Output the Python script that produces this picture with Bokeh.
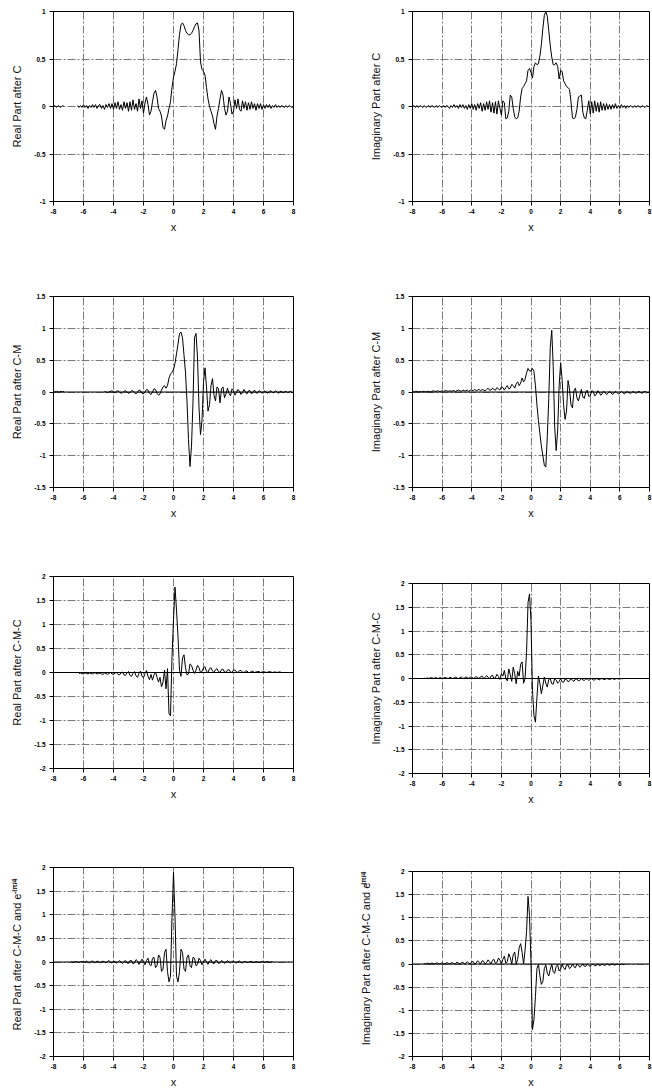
import numpy as np
from bokeh.plotting import figure
from bokeh.layouts import row, column
from bokeh.models import Range1d, FixedTicker, Span, Title
from bokeh.embed import file_html
from bokeh.resources import INLINE

nan = float("nan")

# sample grid (x from -8 to 8 in steps of 0.1)
X = [round(-8 + 0.1 * i, 1) for i in range(161)]

X_TICKS = [-8, -6, -4, -2, 0, 2, 4, 6, 8]
X_TICK_LABELS = ["-8", "-6", "-4", "-2", "0", "2", "4", "6", "8"]
Y_TICKS_1 = [-1, -0.5, 0, 0.5, 1]
Y_TICK_LABELS_1 = ["-1", "-0.5", "0", "0.5", "1"]
Y_TICKS_15 = [-1.5, -1, -0.5, 0, 0.5, 1, 1.5]
Y_TICK_LABELS_15 = ["-1.5", "-1", "-0.5", "0", "0.5", "1", "1.5"]
Y_TICKS_2 = [-2, -1.5, -1, -0.5, 0, 0.5, 1, 1.5, 2]
Y_TICK_LABELS_2 = ["-2", "-1.5", "-1", "-0.5", "0", "0.5", "1", "1.5", "2"]

# Real part after C
real_c = [
    0, 0.01, -0.01, 0.01, 0, -0.01, 0.01, 0,
    nan, nan, nan, nan, nan, nan, nan, nan,
    0.01, -0.01, 0.01, -0.01, 0.02, -0.01, 0.01, -0.02, 0.01, -0.01, 0.02, -0.01, 0.02, -0.02, 0.01,
    0.02, -0.02, 0.01, -0.03, 0.02, -0.01, 0.03, -0.02, 0.03, -0.03,
    0.04, -0.02, 0.05, -0.03, 0.02, -0.04, 0.05, -0.02, 0.04, -0.05,
    0.05, -0.04, 0.07, -0.03, 0.03, -0.05, 0.08, -0.02, 0.06, -0.07,
    0.04, 0.1, 0.02, -0.09, -0.05, 0.05, 0.14, 0.17, 0.1, -0.02,
    -0.05, -0.1, -0.22, -0.24, -0.15, -0.1, -0.02, 0.05, 0.2, 0.31,
    0.37, 0.45, 0.6, 0.76, 0.86, 0.88, 0.85, 0.8, 0.77, 0.755,
    0.755, 0.77, 0.8, 0.84, 0.87, 0.88, 0.8, 0.47, 0.39, 0.37,
    0.33, 0.2, 0.08, 0.0, -0.05, -0.1, -0.18, -0.24, -0.1, -0.02,
    0.08, 0.17, 0.12, -0.02, -0.09, -0.05, 0.1, 0.03, -0.08, -0.05,
    0.07, -0.02, 0.08, -0.03, -0.05, 0.06, -0.02, 0.05, -0.04, 0.04,
    -0.03, 0.05, -0.02, 0.03, -0.04, 0.03, -0.02, 0.03, -0.03, 0.02,
    -0.02, 0.02, -0.01, 0.02, -0.02, 0.01, -0.01, 0.02, -0.01, 0.01,
    -0.01, 0.01, 0, -0.01, 0.01, -0.01, 0.01, 0, -0.01, 0,
]

# Imaginary part after C
imag_c = [
    0, 0.01, -0.01, 0.01, -0.01, 0.01, 0, -0.01,
    0.01, -0.01, 0, 0.01, -0.01, 0.01, 0, -0.01,
    0.01, -0.01, 0.01, 0, -0.01, 0.01, -0.01, 0.01, 0, -0.02, 0.01, -0.01, 0.02, -0.01, 0.01,
    -0.02, 0.02, -0.01, 0.02, -0.02, 0.01, -0.03, 0.02, -0.02, 0.03,
    -0.03, 0.02, -0.04, 0.03, -0.02, 0.04, -0.05, 0.03, -0.04, 0.05,
    -0.03, 0.06, -0.06, 0.04, -0.07, 0.05, -0.08, 0.06, -0.02, -0.09,
    0.06, 0.04, -0.13, -0.12, -0.05, 0.12, 0.1, -0.02, -0.11, -0.13,
    -0.12, -0.05, 0.1, 0.19, 0.21, 0.24, 0.27, 0.38, 0.4, 0.36,
    0.3, 0.42, 0.46, 0.44, 0.45, 0.53, 0.65, 0.82, 0.96, 1.0,
    0.95, 0.8, 0.64, 0.52, 0.44, 0.44, 0.46, 0.42, 0.29, 0.38,
    0.37, 0.27, 0.24, 0.21, 0.2, 0.18, 0.05, -0.12, -0.13, -0.11,
    -0.03, 0.1, 0.11, 0.12, -0.06, -0.12, -0.13, -0.04, 0.06, -0.08,
    0.05, -0.07, 0.06, -0.05, 0.04, -0.06, 0.05, -0.04, 0.03, -0.04,
    0.03, -0.03, 0.02, -0.03, 0.02, -0.02, 0.03, -0.02, 0.01, -0.02,
    0.02, -0.01, 0.01, -0.02, 0.01, -0.01, 0.01, 0, -0.01, 0.01,
    -0.01, 0.01, 0, -0.01, 0.01, 0, -0.01, 0.01, 0, 0,
]

# Real part after C-M
real_cm = [
    0.01, 0, 0.01, 0, 0, 0.01, 0, 0.01,
    nan, nan, nan, nan, nan, nan, nan, nan, nan, nan, nan, nan, nan,
    nan, nan, nan, nan, nan, nan, nan, nan, nan, nan, nan, nan, nan,
    0.01, 0, -0.01, 0, 0.01, 0.02, 0,
    -0.01, 0.01, 0.02, 0, -0.02, -0.01, 0.01, 0.02, 0, -0.02,
    -0.01, 0.02, 0.02, -0.01, -0.03, 0, 0.03, 0.02, -0.02, -0.03,
    0, 0.04, 0.03, -0.02, -0.04, 0, 0.05, 0.04, -0.02, -0.05,
    -0.03, 0.03, 0.08, 0.1, 0.06, 0.1, 0.22, 0.28, 0.31, 0.35,
    0.45, 0.6, 0.75, 0.92, 0.94, 0.85, 0.58, 0.3, -0.15, -0.75,
    -1.17, -0.85, -0.15, 0.85, 0.92, 0.55, -0.25, -0.67, -0.45, 0.15,
    0.38, 0.08, -0.3, -0.2, 0.1, 0.21, -0.05, -0.14, 0.08, 0.05,
    -0.17, 0.05, 0.08, -0.09, -0.03, 0.06, -0.02, -0.06, 0.05, 0.02,
    -0.05, 0.0, 0.04, 0.01, -0.04, -0.01, 0.04, 0.0, -0.03, 0.02,
    0.02, -0.03, 0.0, 0.03, -0.01, -0.02, 0.02, 0.01, -0.02, 0.0,
    0.02, -0.01, -0.02, 0.01, 0.02, -0.01, -0.01, 0.02, 0.0, -0.02,
    0.01, 0.01, -0.01, 0, 0.01, -0.01, 0, 0.01, -0.01, 0,
]

# Imaginary part after C-M
imag_cm = [
    0.01, 0, 0.01, 0.01, 0, 0.01, 0, 0.01, 0.01, 0,
    0.01, 0.01, 0, 0.01, 0.02, 0.01, 0.01, 0.02, 0.01, 0.01,
    0.02, 0.01, 0.02, 0.02, 0.01, 0.02, 0.01, 0.02, 0.02, 0.01,
    0.02, 0.03, 0.02, 0.01, 0.03, 0.02, 0.02, 0.03, 0.01, 0.03,
    0.03, 0.02, 0.04, 0.02, 0.03, 0.04, 0.02, 0.04, 0.03, 0.02,
    0.04, 0.06, 0.03, 0.03, 0.06, 0.04, 0.03, 0.07, 0.05, 0.03,
    0.08, 0.07, 0.03, 0.07, 0.1, 0.05, 0.06, 0.12, 0.1, 0.06,
    0.13, 0.16, 0.1, 0.14, 0.22, 0.16, 0.2, 0.3, 0.37, 0.33,
    0.33, 0.37, 0.32, 0.1, -0.2, -0.45, -0.65, -0.85, -1.0, -1.15,
    -1.18, -0.7, -0.1, 0.7, 0.97, 0.4, -0.55, -0.92, -0.6, 0.1,
    0.46, 0.2, -0.2, -0.43, -0.3, 0.18, 0.05, -0.2, -0.25, 0.02,
    0.06, -0.09, -0.14, -0.05, 0.04, -0.08, -0.1, 0.0, 0.03, -0.07,
    -0.06, 0.02, 0.01, -0.06, -0.04, 0.02, 0.0, -0.05, -0.03, 0.01,
    -0.01, -0.04, -0.02, 0.01, -0.01, -0.04, -0.02, 0.01, -0.01, -0.03,
    -0.02, 0.01, -0.01, -0.03, -0.01, 0.01, -0.01, -0.02, -0.01, 0.01,
    -0.01, -0.02, 0, 0.01, -0.01, -0.02, 0, 0.01, -0.01, -0.01,
    0,
]

# Real part after C-M-C
real_cmc = [
    nan, nan, nan, nan, nan, nan, nan, nan, nan, nan, nan, nan, nan, nan, nan, nan, nan,
    -0.02, -0.01, -0.03, -0.02,
    -0.01, -0.02, -0.03, -0.01, -0.02, -0.03, -0.01, -0.01, -0.03, -0.02,
    -0.01, -0.03, -0.04, -0.01, -0.02, -0.04, -0.02, 0.0, -0.03, -0.04,
    -0.01, 0.0, -0.04, -0.05, -0.01, 0.01, -0.05, -0.06, -0.01, 0.02,
    -0.06, -0.08, -0.02, 0.02, -0.07, -0.1, -0.02, 0.03, -0.08, -0.11,
    -0.02, 0.04, -0.08, -0.15, -0.04, -0.16, -0.05, 0.01, -0.1, -0.2,
    -0.1, -0.3, -0.2, 0.05, -0.34, 0.08, -0.86, -0.9, 0.33, 1.1,
    1.78, 1.3, 0.75, 0.05, -0.08, 0.3, 0.37, 0.1, -0.05, -0.03,
    0.18, 0.15, 0.05, -0.02, 0.05, 0.15, 0.1, 0.0, 0.02, 0.1,
    0.12, 0.02, 0.0, 0.08, 0.1, 0.03, 0.0, 0.06, 0.08, 0.02,
    0.0, 0.06, 0.07, 0.01, 0.0, 0.05, 0.06, 0.01, 0.0, 0.05,
    0.05, 0.01, 0.0, 0.04, 0.04, 0.01, 0.0, 0.03, 0.03, 0.0,
    0.0, 0.03, 0.02, 0.0, 0.01, 0.02, 0.02, 0.0, 0.01, 0.02,
    0.01, 0.0, 0.01, 0.02, 0.01, 0.0, 0.01, 0.01, 0.0, 0.01,
    0.01, 0.0,
    nan, nan, nan, nan, nan, nan, nan, nan,
]

# Imaginary part after C-M-C
imag_cmc = [
    nan, nan, nan, nan, nan, nan, nan, nan,
    0.01, 0, 0.01,
    0.0, 0.01, 0.02, 0.0, 0.01, 0.02, 0.0, 0.01, 0.02, 0.0,
    0.01, 0.02, 0.01, 0.0, 0.02, 0.02, 0.0, 0.01, 0.03, 0.01,
    0.0, 0.02, 0.03, 0.0, 0.01, 0.03, 0.02, 0.0, 0.03, 0.03,
    0.0, 0.02, 0.04, 0.02, 0.0, 0.04, 0.05, 0.0, 0.02, 0.06,
    0.03, -0.01, 0.05, 0.07, 0.0, 0.02, 0.09, 0.04, -0.02, 0.1,
    0.05, 0.17, 0.0, -0.05, 0.2, 0.08, -0.06, 0.24, 0.1, -0.11,
    0.15, 0.05, 0.3, 0.35, -0.1, 0.0, 0.55, 1.6, 1.78, 1.2,
    -0.25, -0.78, -0.92, -0.4, 0.05, -0.1, -0.32, -0.15, 0.03, -0.1,
    -0.18, -0.02, 0.0, -0.11, -0.12, 0.0, -0.03, -0.1, -0.06, 0.0,
    -0.07, -0.08, -0.01, -0.02, -0.07, -0.05, 0.0, -0.04, -0.06, -0.01,
    -0.01, -0.05, -0.04, 0.0, -0.03, -0.04, -0.01, -0.01, -0.04, -0.02,
    0.0, -0.03, -0.03, 0.0, -0.01, -0.03, -0.01, 0.0, -0.02, -0.02,
    0.0, -0.01, -0.02, -0.01, 0.0, -0.02, -0.01, 0.0, -0.01, -0.01,
    0.0, -0.01,
    nan, nan, nan, nan, nan, nan, nan, nan, nan, nan, nan, nan, nan, nan, nan, nan, nan, nan,
]

# Real part after C-M-C and phase factor
real_cmce = [
    nan, nan, nan, nan, nan, nan, nan, nan, nan, nan, nan, nan,
    0.01, -0.01, 0.0, 0.01, 0.0, -0.01, 0.01, 0.01, -0.01,
    0.0, 0.02, 0.0, -0.02, 0.01, 0.02, -0.01, -0.01, 0.02, 0.01,
    -0.02, 0.0, 0.02, 0.0, -0.02, 0.01, 0.03, -0.01, -0.02, 0.02,
    0.01, -0.02, 0.0, 0.03, 0.0, -0.03, 0.01, 0.03, -0.02, -0.03,
    0.03, 0.03, -0.04, -0.02, 0.05, 0.02, -0.05, 0.0, 0.06, 0.0,
    -0.06, 0.03, 0.08, -0.05, -0.08, 0.08, 0.1, -0.12, -0.08, 0.15,
    0.1, -0.2, -0.15, 0.2, 0.27, -0.2, -0.42, -0.3, 0.95, 1.9,
    0.95, -0.3, -0.42, -0.2, 0.27, 0.2, -0.15, -0.2, 0.1, 0.15,
    -0.08, -0.12, 0.1, 0.08, -0.08, -0.05, 0.08, 0.03, -0.06, 0.0,
    0.06, 0.0, -0.05, 0.02, 0.05, -0.02, -0.04, 0.03, 0.03, -0.03,
    -0.02, 0.03, 0.01, -0.03, 0.0, 0.03, 0.0, -0.02, 0.01, 0.02,
    -0.01, -0.02, 0.01, 0.02, -0.01, -0.02, 0.01, 0.01, -0.01, -0.01,
    0.01, 0.01, -0.01, -0.01, 0.01, 0.0, -0.01, 0.0, 0.01, 0.0,
    -0.01, 0.01, 0.01, -0.01, 0.0, 0.01,
    nan, nan, nan, nan, nan, nan, nan, nan, nan, nan, nan, nan, nan, nan,
]

# Imaginary part after C-M-C and phase factor
imag_cmce = [
    nan, nan, nan, nan, nan, nan, nan, nan,
    0.01, 0.0, 0.02,
    0.01, 0.0, 0.02, 0.01, 0.0, 0.02, 0.02, 0.0, 0.01, 0.03,
    0.01, 0.0, 0.03, 0.02, 0.0, 0.02, 0.03, 0.0, 0.01, 0.04,
    0.02, 0.0, 0.03, 0.04, 0.0, 0.02, 0.05, 0.02, 0.0, 0.05,
    0.05, 0.0, 0.02, 0.07, 0.03, 0.0, 0.07, 0.06, 0.0, 0.03,
    0.09, 0.05, 0.0, 0.08, 0.1, 0.01, 0.03, 0.13, 0.08, 0.0,
    0.1, 0.17, 0.02, 0.05, 0.22, 0.14, 0.0, 0.2, 0.26, 0.0,
    0.1, 0.35, 0.44, 0.25, 0.0, 0.3, 0.7, 1.46, 1.05, 0.0,
    -1.42, -1.2, -0.7, -0.1, 0.0, -0.25, -0.44, -0.38, -0.1, -0.02,
    -0.2, -0.26, -0.12, 0.0, -0.17, -0.2, -0.05, -0.02, -0.15, -0.11,
    0.0, -0.08, -0.12, -0.02, -0.02, -0.1, -0.07, 0.0, -0.06, -0.08,
    0.0, -0.02, -0.07, -0.04, 0.0, -0.05, -0.05, 0.0, -0.03, -0.05,
    -0.01, -0.01, -0.04, -0.03, 0.0, -0.03, -0.03, 0.0, -0.02, -0.03,
    0.0, -0.01, -0.03, -0.01, 0.0, -0.02, -0.02, 0.0, -0.01, -0.02,
    0.0, -0.01, -0.01,
    nan, nan, nan, nan, nan, nan, nan, nan, nan, nan, nan, nan, nan, nan, nan, nan, nan,
]

for s in (real_c, imag_c, real_cm, imag_cm, real_cmc, imag_cmc, real_cmce, imag_cmce):
    assert len(s) == len(X), len(s)

FONT = "Liberation Sans"
GRID_COLOR = "#7a7a7a"


def make(ys, ylabel, yticks, yticklabels, w, h, bl, br, bt, bb, zero_line, label_standoff=8):
    yr = (yticks[0], yticks[-1])
    p = figure(width=w, height=h, x_range=Range1d(-8, 8), y_range=Range1d(*yr),
               output_backend="svg", toolbar_location=None, title=None,
               min_border_left=bl, min_border_right=br, min_border_top=bt,
               min_border_bottom=bb)
    p.background_fill_color = "white"
    p.border_fill_color = "white"
    p.outline_line_color = "black"
    p.outline_line_width = 1

    p.xaxis.ticker = FixedTicker(ticks=X_TICKS)
    p.xaxis.major_label_overrides = dict(zip(X_TICKS, X_TICK_LABELS))
    p.yaxis.ticker = FixedTicker(ticks=yticks)
    p.yaxis.major_label_overrides = dict(zip(yticks, yticklabels))
    p.xgrid.ticker = FixedTicker(ticks=X_TICKS)
    p.ygrid.ticker = FixedTicker(ticks=yticks)

    for g in (p.xgrid, p.ygrid):
        g.grid_line_color = GRID_COLOR
        g.grid_line_dash = "8 2 2 2"
        g.grid_line_width = 1

    for ax in (p.xaxis, p.yaxis):
        ax.axis_line_color = "black"
        ax.major_tick_line_color = "black"
        ax.major_tick_in = 0
        ax.major_tick_out = 4
        ax.minor_tick_line_color = None
        ax.major_label_text_font = FONT
        ax.major_label_text_font_size = "6.5px"
        ax.major_label_text_font_style = "bold"
        ax.major_label_text_color = "black"
        ax.axis_label_text_font = FONT
        ax.axis_label_text_font_size = "11px"
        ax.axis_label_text_font_style = "normal"
        ax.axis_label_text_color = "#111111"

    p.xaxis.axis_label = "x"
    p.xaxis.major_label_standoff = 3
    p.xaxis.axis_label_standoff = 4
    p.yaxis.axis_label = ylabel
    p.yaxis.axis_label_align = "center"
    p.yaxis.major_label_standoff = 4
    p.yaxis.axis_label_standoff = label_standoff

    if zero_line:
        p.add_layout(Span(location=0, dimension="width", line_color="black", line_width=1))

    p.line(X, ys, line_color="black", line_width=1)
    return p


def add_superscript(p, offset):
    p.add_layout(Title(text="-i\u03c0/4", align="right", vertical_align="bottom",
                       offset=offset, standoff=-18,
                       text_font=FONT, text_font_size="7px", text_font_style="bold",
                       text_color="#111111"), "left")


LW, RW = 330, 322

l1 = make(real_c, "Real Part after C", Y_TICKS_1, Y_TICK_LABELS_1, LW, 250, 53, 37, 11, 49, False)
l2 = make(real_cm, "Real Part after C-M", Y_TICKS_15, Y_TICK_LABELS_15, LW, 280, 53, 37, 46, 43, True)
l3 = make(real_cmc, "Real Part after C-M-C", Y_TICKS_2, Y_TICK_LABELS_2, LW, 290, 53, 37, 46, 52, True)
l4 = make(real_cmce, "Real Part after C-M-C and e", Y_TICKS_2, Y_TICK_LABELS_2, LW, 270, 53, 37, 47, 32, True)
add_superscript(l4, 11)

r1 = make(imag_c, "Imaginary Part after C", Y_TICKS_1, Y_TICK_LABELS_1, RW, 250, 82, 3, 11, 49, False)
r2 = make(imag_cm, "Imaginary Part after C-M", Y_TICKS_15, Y_TICK_LABELS_15, RW, 285, 82, 3, 46, 48, True)
r3 = make(imag_cmc, "Imaginary Part after C-M-C", Y_TICKS_2, Y_TICK_LABELS_2, RW, 290, 82, 3, 48, 52, True)
r4 = make(imag_cmce, "Imaginary Part after C-M-C and e", Y_TICKS_2, Y_TICK_LABELS_2, RW, 265, 82, 3, 46, 32, True,
          label_standoff=18)
add_superscript(r4, 0)

layout = row(column(l1, l2, l3, l4, spacing=0), column(r1, r2, r3, r4, spacing=0), spacing=0)

open("out.html", "w").write(file_html(layout, INLINE))
